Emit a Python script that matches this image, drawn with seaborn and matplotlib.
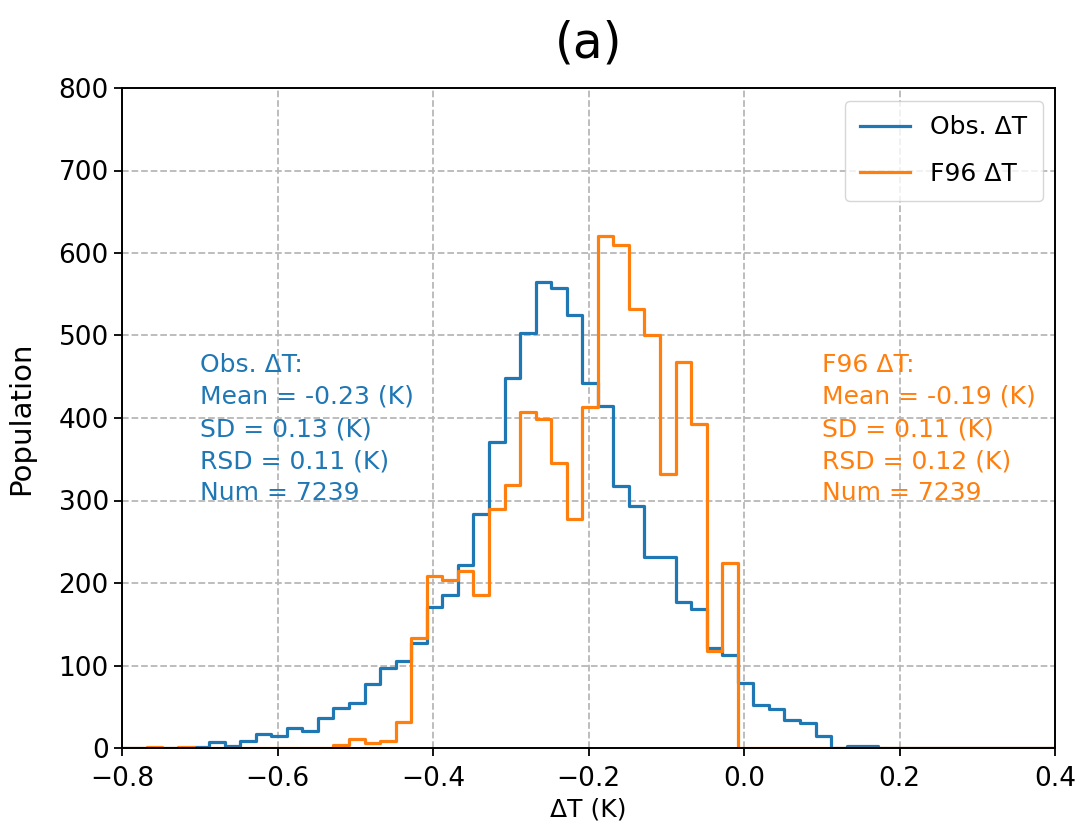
import numpy as np
import pandas as pd
import matplotlib
matplotlib.use("Agg")
import matplotlib.pyplot as plt
import seaborn as sns

# ---- data (counts per bin, bin width 0.02 K) ----
bin_start = -0.808
bin_width = 0.02
n_bins = 61

obs_counts = [0, 0, 0, 0, 0, 1, 7, 2, 9, 17,
              14, 24, 21, 36, 48, 54, 78, 97, 105, 127,
              171, 185, 222, 284, 371, 449, 503, 565, 558, 525,
              443, 414, 317, 293, 231, 231, 177, 169, 121, 113,
              79, 52, 47, 34, 30, 15, 0, 2, 3, 0,
              0, 0, 0, 0, 0, 0, 0, 0, 0, 0,
              0]

f96_counts = [0, 0, 1, 0, 1, 0, 0, 0, 0, 0,
              0, 0, 0, 0, 4, 11, 6, 8, 31, 133,
              208, 204, 214, 186, 290, 319, 407, 399, 346, 277,
              413, 621, 610, 532, 500, 332, 468, 393, 118, 224,
              0, 0, 0, 0, 0, 0, 0, 0, 0, 0,
              0, 0, 0, 0, 0, 0, 0, 0, 0, 0,
              0]

series_labels = ["Obs. \u0394T", "F96 \u0394T"]
obs_stats = ["Obs. \u0394T:", "Mean = -0.23 (K)", "SD = 0.13 (K)", "RSD = 0.11 (K)", "Num = 7239"]
f96_stats = ["F96 \u0394T:", "Mean = -0.19 (K)", "SD = 0.11 (K)", "RSD = 0.12 (K)", "Num = 7239"]
xticks = [-0.8, -0.6, -0.4, -0.2, 0.0, 0.2, 0.4]
yticks = [0, 100, 200, 300, 400, 500, 600, 700, 800]

bin_end = bin_start + bin_width * n_bins
centers = bin_start + bin_width * (np.arange(n_bins) + 0.5)
df_obs = pd.DataFrame({"dT": centers, "count": obs_counts})
df_f96 = pd.DataFrame({"dT": centers, "count": f96_counts})

blue = "#1f77b4"
orange = "#ff7f0e"
FS = 18

fig = plt.figure(figsize=(10.79, 8.34), dpi=100)
ax = fig.add_axes([122 / 1079, 1 - 748 / 834, (1055 - 122) / 1079, (748 - 88) / 834])

sns.histplot(data=df_obs, x="dT", weights="count", binwidth=bin_width,
             binrange=(bin_start, bin_end), element="step", fill=False,
             color=blue, linewidth=2.3, label=series_labels[0], ax=ax)
sns.histplot(data=df_f96, x="dT", weights="count", binwidth=bin_width,
             binrange=(bin_start, bin_end), element="step", fill=False,
             color=orange, linewidth=2.3, label=series_labels[1], ax=ax)

ax.set_xlim(-0.8, 0.4)
ax.set_ylim(0, 800)
ax.set_xticks(xticks)
ax.set_yticks(yticks)
ax.grid(True, linestyle="--", color="#b8b8b8", linewidth=1.3)
ax.set_axisbelow(True)
ax.tick_params(labelsize=19, length=6, width=1.3)
ax.tick_params(axis="x", pad=7)
for sp in ax.spines.values():
    sp.set_linewidth(1.4)

ax.set_xlabel("\u0394T (K)", fontsize=FS)
ax.set_ylabel("Population", fontsize=21)
ax.yaxis.set_label_coords(-0.093, 0.5)
ax.set_title("(a)", fontsize=35, pad=22)

ax.text(-0.7, 300, "\n".join(obs_stats), color=blue, fontsize=FS, linespacing=1.43)
ax.text(0.1, 300, "\n".join(f96_stats), color=orange, fontsize=FS, linespacing=1.43)

ax.legend(loc="upper right", fontsize=FS, labelspacing=0.9, borderpad=0.6)

fig.savefig("out.png", dpi=100)
